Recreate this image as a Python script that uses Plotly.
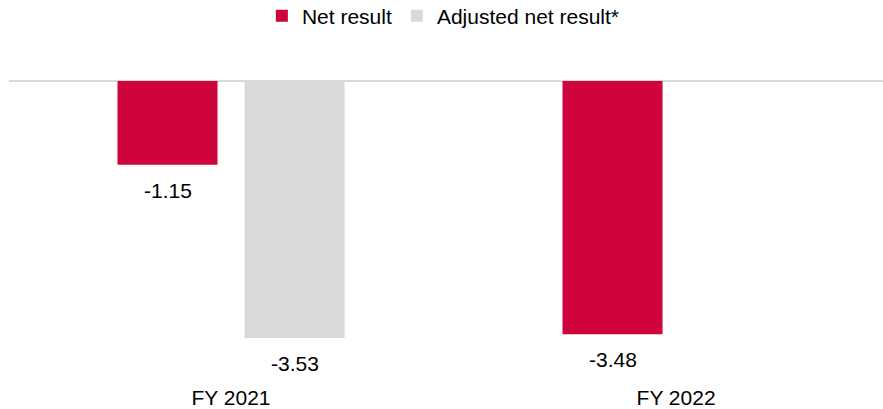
import plotly.graph_objects as go

# Fiscal years and results (EUR, per share)
categories = ["FY 2021", "FY 2022"]
net_result = [-1.15, -3.48]
adjusted_net_result = [-3.53, None]

series_names = ["Net result", "Adjusted net result*"]
series_colors = ["#D0043C", "#D9D9D9"]

FONT = "Arial, Liberation Sans, sans-serif"
TEXT_COLOR = "#000000"
FONT_SIZE = 21

fig = go.Figure()
for name, values, color in zip(series_names, [net_result, adjusted_net_result], series_colors):
    fig.add_trace(go.Bar(
        name=name,
        x=categories,
        y=values,
        marker=dict(color=color, line=dict(width=0)),
        hoverinfo="skip",
    ))

# Value labels under each bar end
slot_shift = 63.5
for i, values in enumerate([net_result, adjusted_net_result]):
    shift = -slot_shift if i == 0 else slot_shift
    for cat, v in zip(categories, values):
        if v is None:
            continue
        fig.add_annotation(
            x=cat, y=v, xref="x", yref="y",
            text=f"{v:.2f}",
            showarrow=False,
            xshift=shift, yshift=-12,
            yanchor="top", xanchor="center",
            font=dict(family=FONT, size=FONT_SIZE, color=TEXT_COLOR),
        )

fig.update_layout(
    width=883,
    height=409,
    margin=dict(l=9, r=0, t=60, b=26, autoexpand=False),
    paper_bgcolor="white",
    plot_bgcolor="white",
    barmode="group",
    bargap=0.429,
    bargroupgap=0.2126,
    font=dict(family=FONT, size=FONT_SIZE, color=TEXT_COLOR),
    showlegend=True,
    legend=dict(
        orientation="h",
        x=0.497, xanchor="center",
        y=1.136, yanchor="middle",
        font=dict(family=FONT, size=FONT_SIZE, color=TEXT_COLOR),
        itemwidth=30,
        traceorder="normal",
    ),
    xaxis=dict(
        type="category",
        range=[-0.4989, 1.465],
        showline=False,
        showgrid=False,
        ticks="",
        tickfont=dict(family=FONT, size=FONT_SIZE, color=TEXT_COLOR),
        fixedrange=True,
    ),
    yaxis=dict(
        range=[-4.15, 0.29],
        showgrid=False,
        showticklabels=False,
        ticks="",
        zeroline=True,
        zerolinecolor="#D9D9D9",
        zerolinewidth=2,
        fixedrange=True,
    ),
)

fig.write_html("out.html")
